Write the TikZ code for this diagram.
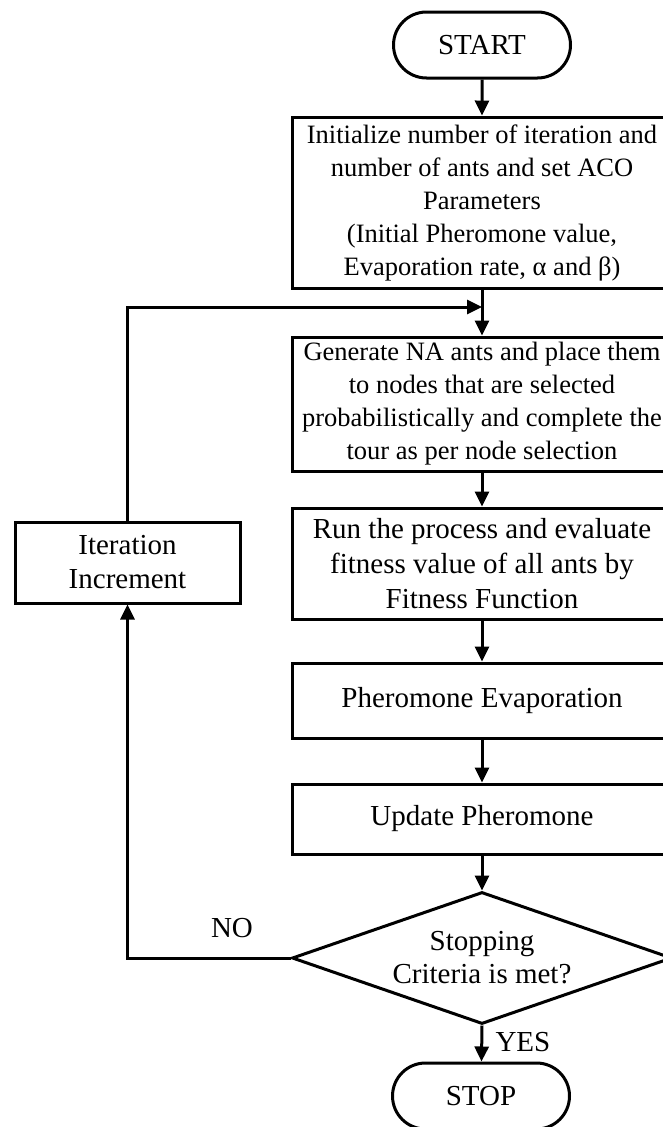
\documentclass[tikz,border=0pt]{standalone}
\usepackage{fontspec}
\setmainfont{Liberation Serif}
\usetikzlibrary{shapes.geometric,shapes.misc,arrows.meta}
\begin{document}
\begin{tikzpicture}[x=1pt,y=-1pt,line width=3pt,
  every node/.style={font=\fontsize{29}{32}\selectfont, align=center, inner sep=0pt},
  box/.style={draw, rectangle, minimum width=380pt},
  term/.style={draw, rounded rectangle, minimum width=177pt, minimum height=66pt},
  arr/.style={-{Triangle[length=15pt,width=14pt]}}]
\useasboundingbox (0,0) rectangle (663,1127);
\node[term] (start) at (482,45) {START};
\node[box, minimum height=171pt, font=\fontsize{26.5}{33}\selectfont] (init) at (482,202.5) {Initialize number of iteration and\\number of ants and set ACO\\Parameters\\(Initial Pheromone value,\\Evaporation rate, α and β)};
\coordinate (join) at (482,307);
\node[box, minimum height=134pt, font=\fontsize{26.5}{33}\selectfont] (gen) at (482,404) {Generate NA ants and place them\\to nodes that are selected\\probabilistically and complete the\\tour as per node selection};
\node[box, minimum height=111pt, font=\fontsize{29}{35}\selectfont] (run) at (482,563.5) {Run the process and evaluate\\fitness value of all ants by\\Fitness Function};
\node[box, minimum height=75pt] (evap) at (482,700.5) {Pheromone Evaporation};
\node[box, minimum height=70pt] (upd) at (482,819) {Update Pheromone};
\node[draw, diamond, aspect=2.88, minimum width=380pt, minimum height=132pt, font=\fontsize{29}{33}\selectfont] (dec) at (482,958) {Stopping\\Criteria is met?};
\node[term] (stop) at (481,1096) {STOP};
\node[draw, rectangle, minimum width=225pt, minimum height=81pt, font=\fontsize{29}{34}\selectfont] (iter) at (127.5,562.5) {Iteration\\Increment};
\node (no) at (232,928) {NO};
\node[anchor=west] (yes) at (494,1042) {YES};
\draw[arr] (start) -- (init);
\draw (init) -- (join);
\draw[arr] (join) -- (gen);
\draw[arr] (gen) -- (run);
\draw[arr] (run) -- (evap);
\draw[arr] (evap) -- (upd);
\draw[arr] (upd) -- (dec);
\draw[arr] (dec.south) -- (stop);
\draw[arr] (dec.west) -| (iter.south);
\draw[arr] (iter.north) |- (join);
\end{tikzpicture}
\end{document}
